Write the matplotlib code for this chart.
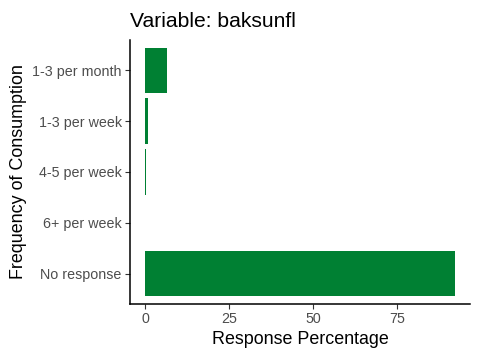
import matplotlib
matplotlib.use("Agg")
import matplotlib.pyplot as plt

categories = ["1-3 per month", "1-3 per week", "4-5 per week", "6+ per week", "No response"]
values = [6.5, 0.85, 0.3, 0.0, 92.2]
xticks = [0, 25, 50, 75]

plt.rcParams['font.family'] = ['Liberation Sans', 'DejaVu Sans']

W, H = 480, 360
fig = plt.figure(figsize=(4.8, 3.6), dpi=100)
ax = fig.add_axes([130 / W, 1 - 304 / H, (470 - 130) / W, (304 - 40) / H])

ypos = list(range(len(categories)))
ax.barh(ypos, values, height=0.9, color="#008033")
ax.set_ylim(len(categories) - 1 + 0.6, -0.6)
xmax = max(values)
ax.set_xlim(-0.05 * xmax, xmax * 1.05)
ax.set_yticks(ypos)
ax.set_yticklabels(categories)
ax.set_xticks(xticks)
ax.set_xticklabels([str(t) for t in xticks])

for s in ["top", "right"]:
    ax.spines[s].set_visible(False)
for s in ["left", "bottom"]:
    ax.spines[s].set_color("black")
    ax.spines[s].set_linewidth(1.1)
ax.tick_params(axis="both", colors="#333333", length=3.5, width=0.8,
               labelsize=10.3, labelcolor="#4D4D4D", pad=2.5)

ax.set_xlabel("Response Percentage", fontsize=12.9, color="black", labelpad=3)
ax.set_ylabel("Frequency of Consumption", fontsize=12.9, color="black", labelpad=4)
fig.text(130 / W, 1 - 27 / H, "Variable: baksunfl", fontsize=15.2,
         ha="left", va="baseline", color="black")

fig.savefig("out.png", dpi=100)
